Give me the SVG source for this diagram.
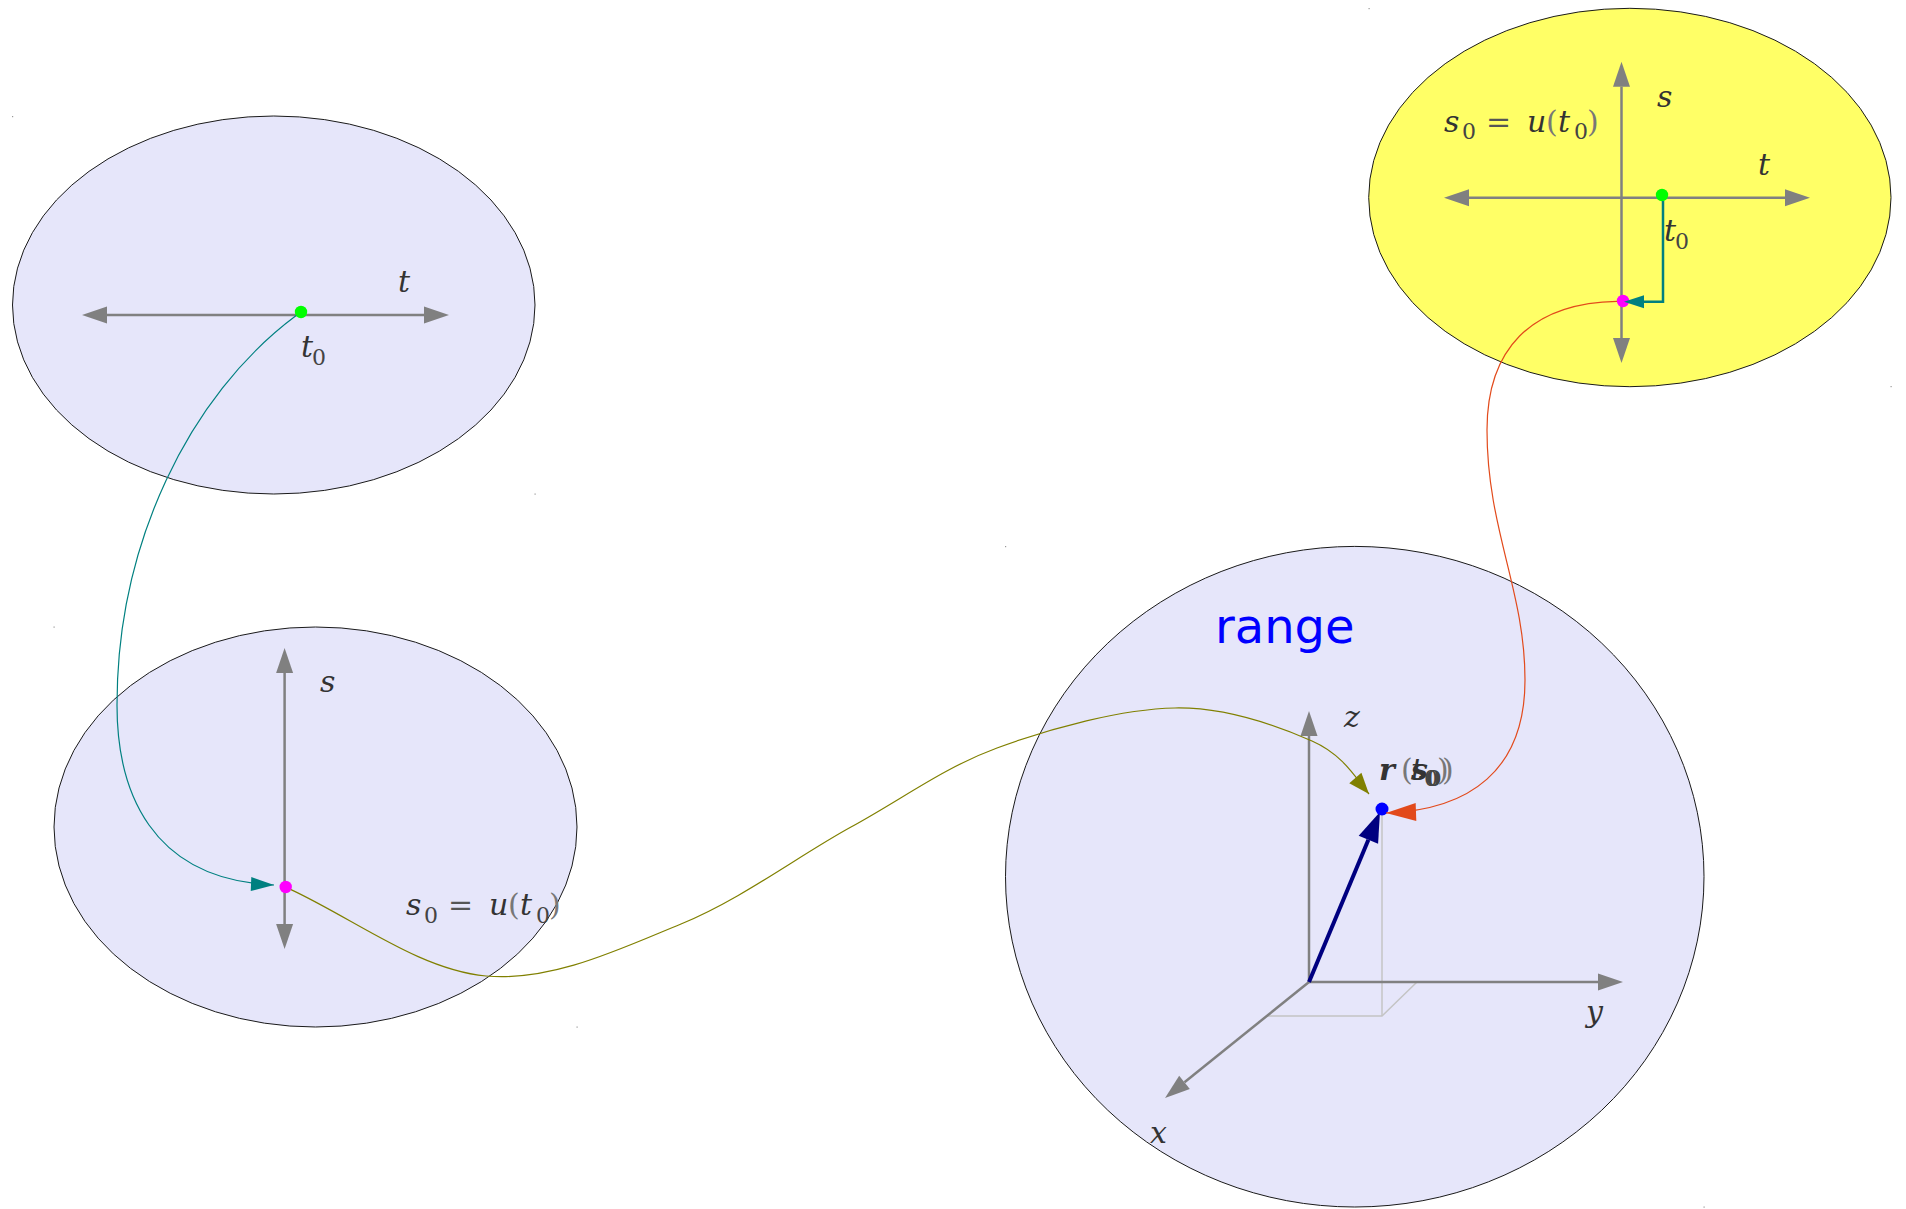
<svg xmlns="http://www.w3.org/2000/svg" width="1906" height="1209" viewBox="0 0 1906 1209">
<defs>
<style>
.node{fill:#e6e6fa;stroke:#1a1a1a;stroke-width:1}
.yellow{fill:#ffff66}
.axis{stroke:#808080;stroke-width:2.5;fill:none}
.both{marker-start:url(#ax);marker-end:url(#ax)}
.one{marker-end:url(#ax)}
.proj{stroke:#c4c4c4;stroke-width:1.5;fill:none}
.m{font-family:"DejaVu Serif",serif;font-style:italic;font-size:30px;fill:#333}
.f{font-size:30px}
.sub{font-style:normal;font-size:22px;fill:#444}
.op{font-style:normal;fill:#555}
.par{font-style:normal;fill:#777}
.conn{fill:none;stroke-width:1.2}
.mark{fill:#999}
</style>
<marker id="ax" markerUnits="userSpaceOnUse" markerWidth="25" markerHeight="17" refX="0" refY="8.5" orient="auto-start-reverse" overflow="visible"><path d="M0,0 L25,8.5 L0,17 z" fill="#808080"/></marker>
<marker id="teal1" markerUnits="userSpaceOnUse" markerWidth="23" markerHeight="14" refX="23" refY="7" orient="auto" overflow="visible"><path d="M0,0 L23,7 L0,14 z" fill="#008080"/></marker>
<marker id="teal2" markerUnits="userSpaceOnUse" markerWidth="20" markerHeight="13" refX="0" refY="6.5" orient="auto" overflow="visible"><path d="M0,0 L20,6.5 L0,13 z" fill="#008080"/></marker>
<marker id="olive" markerUnits="userSpaceOnUse" markerWidth="21" markerHeight="16" refX="21" refY="8" orient="auto" overflow="visible"><path d="M0,0 L21,8 L0,16 z" fill="#808000"/></marker>
<marker id="red" markerUnits="userSpaceOnUse" markerWidth="30" markerHeight="18" refX="30" refY="9" orient="auto" overflow="visible"><path d="M0,0 L30,9 L0,18 z" fill="#e24a1b"/></marker>
<marker id="navy" markerUnits="userSpaceOnUse" markerWidth="30" markerHeight="21" refX="0" refY="10.5" orient="auto" overflow="visible"><path d="M0,0 L30,10.5 L0,21 z" fill="#000080"/></marker>
</defs>
<rect width="1906" height="1209" fill="#ffffff"/>

<g id="domain-t">
<ellipse class="node" cx="273.75" cy="305" rx="261.25" ry="189"/>
<line class="axis both" x1="107" y1="315" x2="424" y2="315"/>
<text class="m" x="398" y="292">t</text>
<text class="m" x="301" y="357">t<tspan class="sub" x="312" y="365">0</tspan></text>
<circle cx="301" cy="312" r="6.2" fill="#00ff00"/>
</g>

<g id="domain-s">
<ellipse class="node" cx="315.5" cy="827" rx="261.5" ry="200"/>
<line class="axis both" x1="284.6" y1="673" x2="284.6" y2="924"/>
<text class="m" x="320" y="692">s</text>
<text class="m f" y="915"><tspan x="406">s</tspan><tspan class="sub" x="424" y="922.5">0</tspan><tspan class="op" x="448" y="915">=</tspan><tspan x="489">u</tspan><tspan class="par" x="508">(</tspan><tspan x="520">t</tspan><tspan class="sub" x="536" y="922.5">0</tspan><tspan class="par" x="549" y="915">)</tspan></text>
<circle cx="285.7" cy="887" r="6.2" fill="#ff00ff"/>
</g>

<g id="map-u">
<ellipse class="node yellow" cx="1629.85" cy="197.5" rx="261.15" ry="189.2"/>
<line class="axis both" x1="1469" y1="197.7" x2="1785" y2="197.7"/>
<line class="axis both" x1="1621.5" y1="86.7" x2="1621.5" y2="338"/>
<text class="m" x="1657" y="107">s</text>
<text class="m" x="1758" y="175">t</text>
<text class="m" x="1664" y="241">t<tspan class="sub" x="1675" y="249">0</tspan></text>
<text class="m f" y="131.7"><tspan x="1444">s</tspan><tspan class="sub" x="1462" y="139.2">0</tspan><tspan class="op" x="1486" y="131.7">=</tspan><tspan x="1527">u</tspan><tspan class="par" x="1546">(</tspan><tspan x="1558">t</tspan><tspan class="sub" x="1574" y="139.2">0</tspan><tspan class="par" x="1587" y="131.7">)</tspan></text>
<circle cx="1662" cy="195" r="6.2" fill="#00ff00"/>
<circle cx="1623" cy="301" r="6.2" fill="#ff00ff"/>
</g>

<g id="range">
<ellipse class="node" cx="1354.75" cy="876.7" rx="349.25" ry="330.3"/>
<text x="1215" y="643" font-family="'DejaVu Sans',sans-serif" font-size="48" fill="#0000ff">range</text>
<line class="proj" x1="1382" y1="809" x2="1382" y2="1016"/>
<polyline class="proj" points="1266,1016 1382,1016 1417,982"/>
<line class="axis one" x1="1309" y1="982" x2="1309" y2="736"/>
<line class="axis one" x1="1309" y1="982" x2="1598" y2="982"/>
<line class="axis one" x1="1309" y1="982" x2="1184.5" y2="1082.3"/>
<line x1="1309" y1="982" x2="1368.4" y2="839.7" stroke="#000080" stroke-width="4" marker-end="url(#navy)"/>
<text class="m" x="1344" y="727">z</text>
<text class="m" x="1586" y="1022">y</text>
<text class="m" x="1150" y="1143">x</text>
<text class="m" font-size="26" y="780"><tspan x="1379" font-weight="bold">r</tspan><tspan class="par" x="1401">(</tspan><tspan x="1411">t</tspan><tspan class="sub" font-size="19" x="1424" y="786">0</tspan><tspan class="par" x="1437" y="780">)</tspan><tspan x="1411" font-weight="bold">s</tspan><tspan class="sub" font-size="19" font-weight="bold" x="1426" y="786">0</tspan><tspan class="par" x="1442" y="780">)</tspan></text>
<circle cx="1382" cy="809" r="6.5" fill="#0000ff"/>
</g>

<g id="connectors">
<path class="conn" stroke="#008080" marker-end="url(#teal1)" d="M296.2,315.6 C188,396 117,545 117,705 C117,790 150,880 274,885"/>
<path class="conn" stroke="#808000" marker-end="url(#olive)" d="M291,889.6 C356,920 420,970 486,976 C552,982 620,949 681,924 C742,899 798,856 851,827 C904,798 943,768 997,748 C1051,728 1122,709 1175,708 C1228,707 1280,727 1312,741 C1344,755 1357,780 1369,794"/>
<path class="conn" stroke="#e24a1b" marker-end="url(#red)" d="M1617,301.3 C1530,303 1487,350 1487,430 C1487,530 1525,590 1525,680 C1525,770 1470,810 1386,813"/>
<path fill="none" stroke="#008080" stroke-width="2.5" marker-end="url(#teal2)" d="M1663,201 V301.7 H1644"/>
</g>

<g id="corner-marks">
<rect class="mark" x="12" y="116" width="1.2" height="1.2"/>
<rect class="mark" x="534.5" y="493.5" width="1.2" height="1.2"/>
<rect class="mark" x="53.5" y="626.5" width="1.2" height="1.2"/>
<rect class="mark" x="576.5" y="1026.5" width="1.2" height="1.2"/>
<rect class="mark" x="1368.5" y="8" width="1.2" height="1.2"/>
<rect class="mark" x="1890.5" y="386" width="1.2" height="1.2"/>
<rect class="mark" x="1005" y="546" width="1.2" height="1.2"/>
<rect class="mark" x="1703.5" y="1206.5" width="1.2" height="1.2"/>
</g>
</svg>
